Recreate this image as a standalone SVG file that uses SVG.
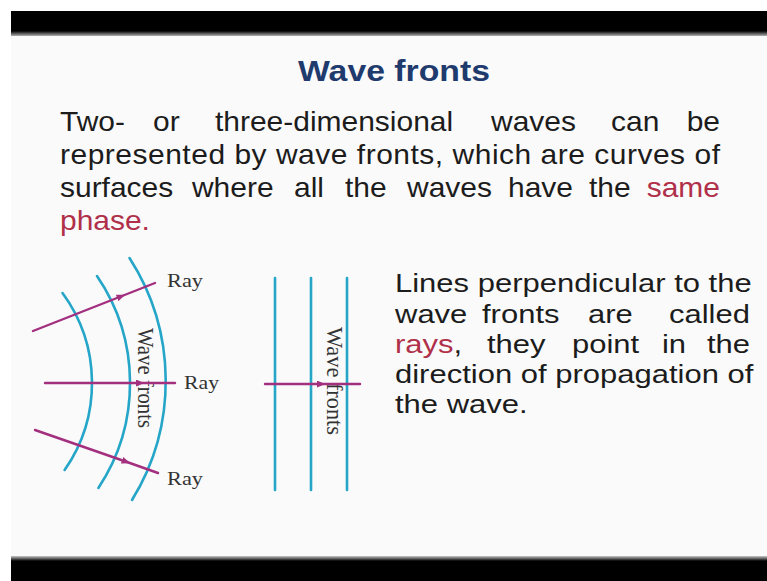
<svg xmlns="http://www.w3.org/2000/svg" width="767" height="581" viewBox="0 0 767 581">
  <defs>
    <linearGradient id="gTop" x1="0" y1="0" x2="0" y2="1">
      <stop offset="0" stop-color="#000"/>
      <stop offset="0.8" stop-color="#000"/>
      <stop offset="1" stop-color="#b0b0b0"/>
    </linearGradient>
    <linearGradient id="gBot" x1="0" y1="0" x2="0" y2="1">
      <stop offset="0" stop-color="#c8c8c8"/>
      <stop offset="0.2" stop-color="#000"/>
      <stop offset="1" stop-color="#000"/>
    </linearGradient>
    <marker id="arr" viewBox="0 0 10 8" refX="6" refY="4" markerWidth="9" markerHeight="7" markerUnits="userSpaceOnUse" orient="auto">
      <path d="M0,0 L10,4 L0,8 Z" fill="#a32f7f"/>
    </marker>
    <style>
      .wave { fill: none; stroke: #25a6c9; stroke-width: 2.6; stroke-linecap: round; }
      .ray { fill: none; stroke: #a32f7f; stroke-width: 2.4; stroke-linecap: round; marker-mid: url(#arr); }
      .body { font-family: "Liberation Sans", Arial, sans-serif; fill: #1c1c1c; }
      .red { fill: #b0304a; }
      .serif { font-family: "Liberation Serif", "Times New Roman", serif; fill: #333; }
    </style>
  </defs>

  <rect x="0" y="0" width="767" height="581" fill="#ffffff"/>
  <rect x="11" y="11" width="756" height="550" fill="#fafafa"/>
  <rect x="11" y="11" width="756" height="25" fill="url(#gTop)"/>
  <rect x="11" y="556" width="756" height="25" fill="url(#gBot)"/>

  <text x="298" y="81" textLength="192" lengthAdjust="spacingAndGlyphs" font-family="Liberation Sans, Arial, sans-serif" font-weight="bold" font-size="30" fill="#1f3b6e">Wave fronts</text>

  <g id="para-left" class="body" font-size="27" transform="scale(1.11,1)">
    <text y="131">
      <tspan x="54.05">Two-</tspan>
      <tspan x="137.84">or</tspan>
      <tspan x="193.69">three-dimensional</tspan>
      <tspan x="442.34">waves</tspan>
      <tspan x="550.45">can</tspan>
      <tspan x="648.65" text-anchor="end">be</tspan>
    </text>
    <text x="54.05" y="164" textLength="594.6" lengthAdjust="spacing">represented by wave fronts, which are curves of</text>
    <text y="197">
      <tspan x="54.05">surfaces</tspan>
      <tspan x="172.97">where</tspan>
      <tspan x="264.86">all</tspan>
      <tspan x="310.81">the</tspan>
      <tspan x="366.67">waves</tspan>
      <tspan x="457.66">have</tspan>
      <tspan x="530.63">the</tspan>
      <tspan x="648.65" text-anchor="end" class="red">same</tspan>
    </text>
    <text x="54.05" y="230" class="red">phase.</text>
  </g>

  <g id="para-right" class="body" font-size="25" transform="scale(1.24,1)">
    <text x="318.55" y="292">Lines perpendicular to the</text>
    <text y="323">
      <tspan x="318.55">wave</tspan>
      <tspan x="388.71">fronts</tspan>
      <tspan x="474.19">are</tspan>
      <tspan x="604.84" text-anchor="end">called</tspan>
    </text>
    <text y="353">
      <tspan x="318.55" class="red">rays</tspan><tspan>,</tspan>
      <tspan x="392.74">they</tspan>
      <tspan x="461.29">point</tspan>
      <tspan x="533.87">in</tspan>
      <tspan x="604.84" text-anchor="end">the</tspan>
    </text>
    <text x="318.55" y="383">direction of propagation of</text>
    <text x="318.55" y="413">the wave.</text>
  </g>

  <g id="spherical-fronts">
    <path class="wave" d="M62.5,293 A152,152 0 0 1 64.6,470"/>
    <path class="wave" d="M97,276 A190,190 0 0 1 98.4,488"/>
    <path class="wave" d="M129.5,258 A227,227 0 0 1 132,500"/>
    <text class="serif" font-size="20" text-anchor="middle" textLength="100" lengthAdjust="spacingAndGlyphs" transform="translate(138,378) rotate(90) scale(1,1.15)">Wave fronts</text>
  </g>

  <g id="plane-fronts">
    <line class="wave" x1="275" y1="278" x2="275" y2="490"/>
    <line class="wave" x1="311" y1="278" x2="311" y2="490"/>
    <line class="wave" x1="347" y1="278" x2="347" y2="490"/>
    <text class="serif" font-size="20" text-anchor="middle" textLength="108" lengthAdjust="spacingAndGlyphs" transform="translate(327,381) rotate(90) scale(1,1.15)">Wave fronts</text>
  </g>

  <g id="connectors">
    <path class="ray" d="M33,331 L122,296 L155,283"/>
    <path class="ray" d="M45,383 L141,383 L175,383"/>
    <path class="ray" d="M35,430 L127,462 L158,473"/>
    <path class="ray" d="M265,384 L322,384 L360,384"/>
  </g>

  <g id="ray-labels" class="serif" font-size="19">
    <text x="167" y="287" textLength="36" lengthAdjust="spacingAndGlyphs">Ray</text>
    <text x="184" y="389" textLength="35" lengthAdjust="spacingAndGlyphs">Ray</text>
    <text x="167" y="485" textLength="36" lengthAdjust="spacingAndGlyphs">Ray</text>
  </g>
</svg>
